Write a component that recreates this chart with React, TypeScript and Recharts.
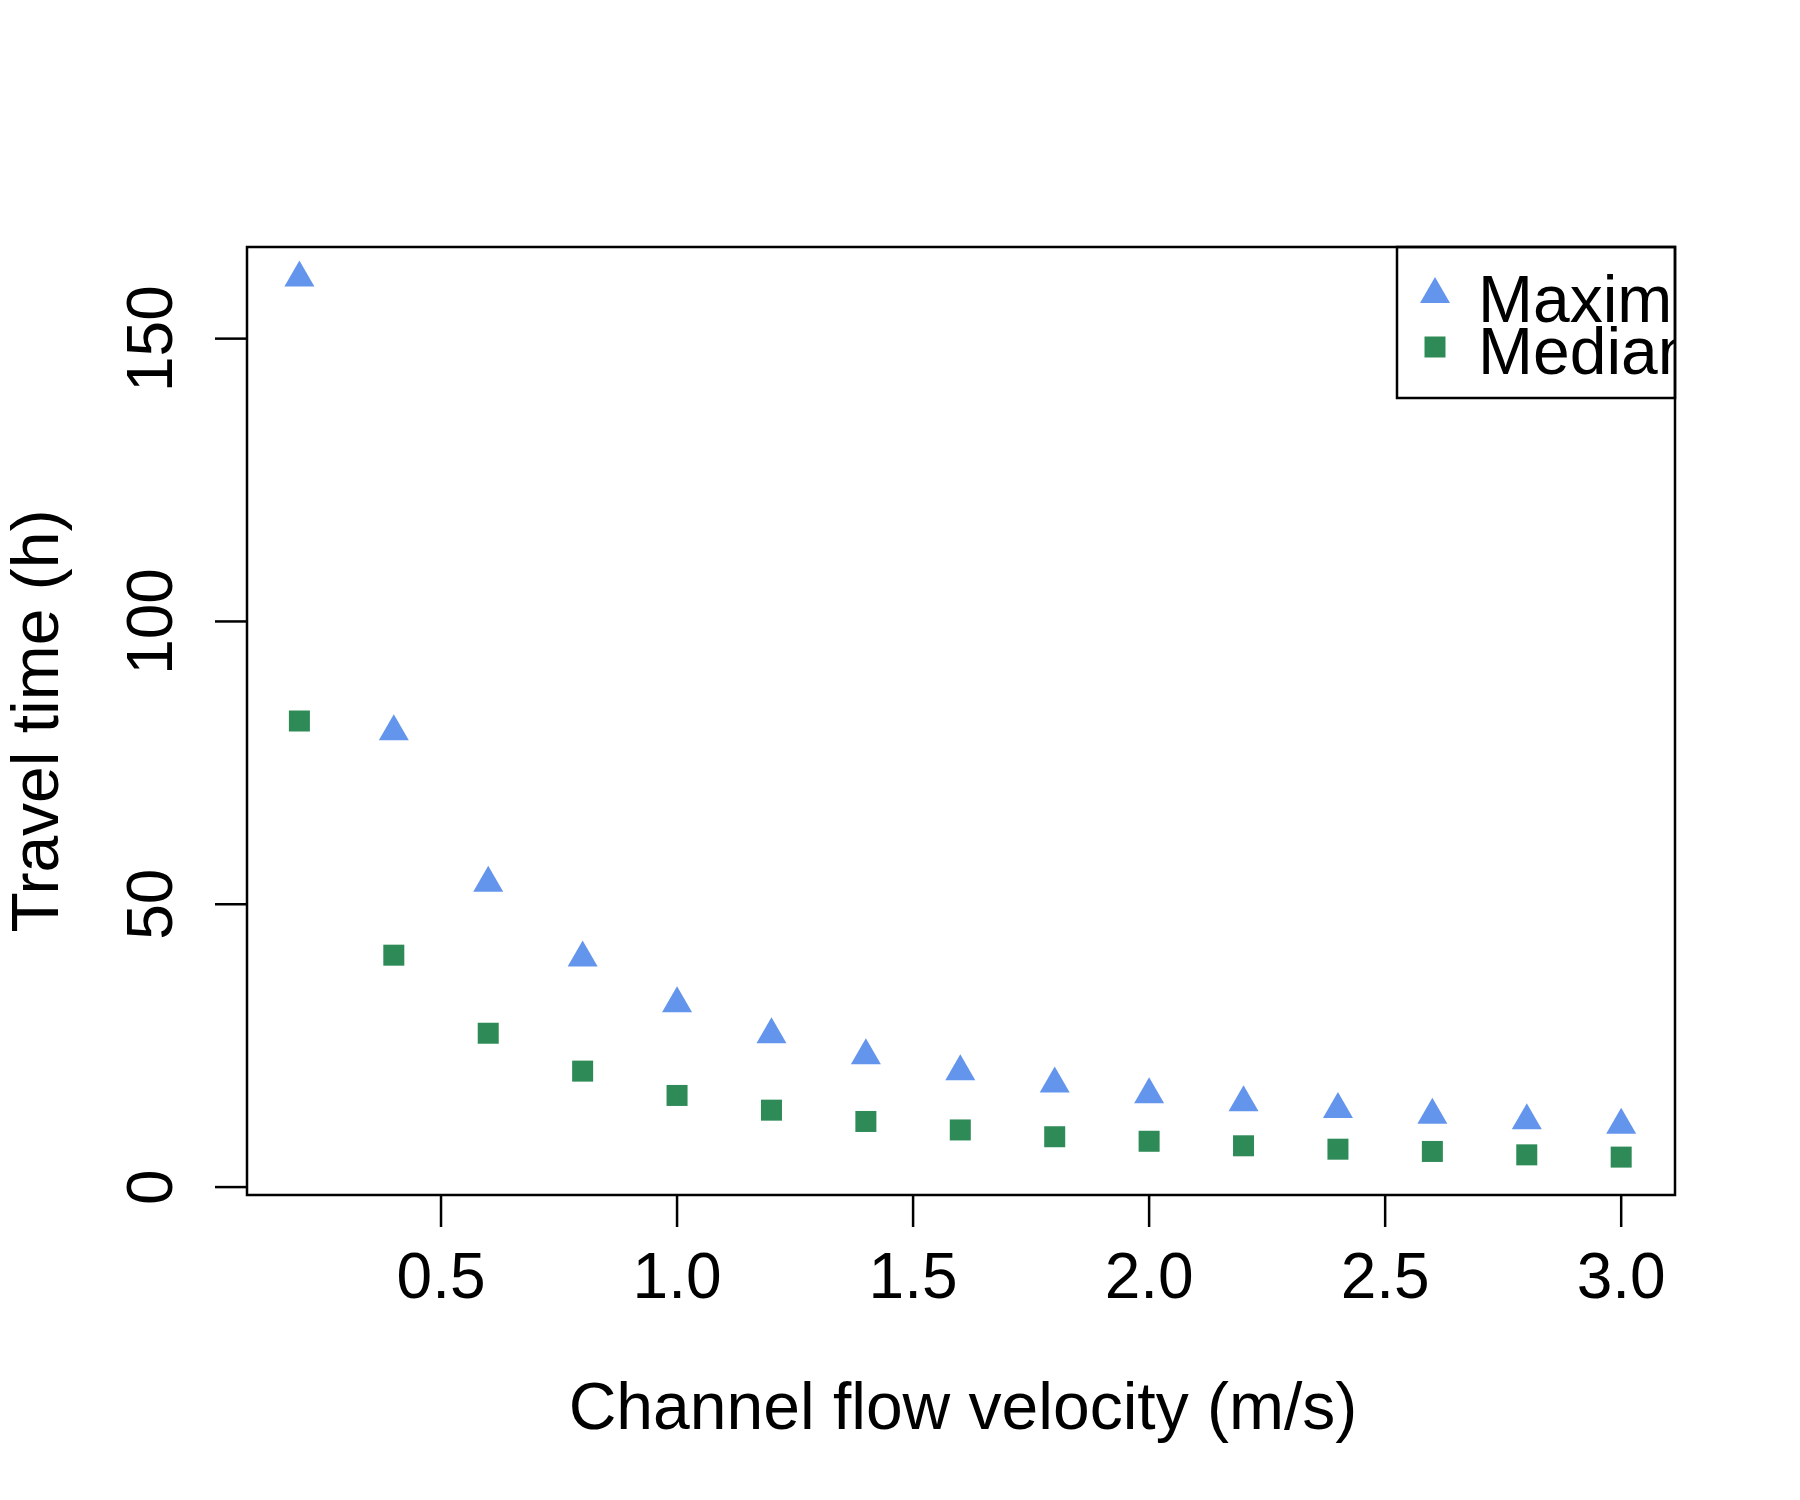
import { ScatterChart, Scatter, XAxis, YAxis, ReferenceArea } from "recharts";

const velocity = [0.2, 0.4, 0.6, 0.8, 1.0, 1.2, 1.4, 1.6, 1.8, 2.0, 2.2, 2.4, 2.6, 2.8, 3.0];
const maximum = [160.8, 80.6, 53.8, 40.6, 32.5, 27.0, 23.3, 20.5, 18.3, 16.4, 15.0, 13.8, 12.8, 11.8, 11.0];
const median = [82.4, 41.0, 27.2, 20.5, 16.2, 13.6, 11.6, 10.1, 8.9, 8.1, 7.3, 6.7, 6.3, 5.7, 5.3];
const xTicks = [0.5, 1.0, 1.5, 2.0, 2.5, 3.0];
const yTicks = [0, 50, 100, 150];

const maxData = velocity.map((v, i) => ({ x: v, y: maximum[i] }));
const medData = velocity.map((v, i) => ({ x: v, y: median[i] }));

const FONT = "'Liberation Sans', Arial, sans-serif";
const X_DOMAIN: [number, number] = [0.089, 3.114];
const Y_DOMAIN: [number, number] = [-1.4, 166.2];
const BOTTOM = 1195;

const Triangle = (p: any) => (
  <polygon
    points={`${p.cx},${p.cy - 17} ${p.cx - 15},${p.cy + 9} ${p.cx + 15},${p.cy + 9}`}
    fill="#6495ED"
  />
);
const Square = (p: any) => (
  <rect x={p.cx - 10.5} y={p.cy - 10.5} width={21} height={21} fill="#2E8B57" />
);

const XTick = (p: any) => (
  <g>
    <line x1={p.x} x2={p.x} y1={BOTTOM} y2={BOTTOM + 32} stroke="#000" strokeWidth={2.5} />
    <text x={p.x} y={1298} textAnchor="middle" fontSize={64} fontFamily={FONT} fill="#000">
      {p.payload.value.toFixed(1)}
    </text>
  </g>
);
const YTick = (p: any) => (
  <g>
    <line x1={215} x2={247} y1={p.y} y2={p.y} stroke="#000" strokeWidth={2.5} />
    <text
      x={172}
      y={p.y}
      textAnchor="middle"
      fontSize={64}
      fontFamily={FONT}
      fill="#000"
      transform={`rotate(-90 172 ${p.y})`}
    >
      {p.payload.value}
    </text>
  </g>
);

export default function App() {
  return (
    <div style={{ position: "absolute", left: 0, top: 0, width: 1800, height: 1500, background: "#fff" }}>
      <ScatterChart width={1800} height={1500} margin={{ top: 247, right: 125, bottom: 205, left: 147 }}>
        <XAxis
          type="number"
          dataKey="x"
          domain={X_DOMAIN}
          ticks={xTicks}
          axisLine={false}
          tickLine={false}
          tick={<XTick />}
          height={100}
          allowDataOverflow
        />
        <YAxis
          type="number"
          dataKey="y"
          domain={Y_DOMAIN}
          ticks={yTicks}
          axisLine={false}
          tickLine={false}
          tick={<YTick />}
          width={100}
          allowDataOverflow
        />
        <ReferenceArea
          x1={X_DOMAIN[0]}
          x2={X_DOMAIN[1]}
          y1={Y_DOMAIN[0]}
          y2={Y_DOMAIN[1]}
          fill="none"
          stroke="#000"
          strokeWidth={2.5}
          fillOpacity={0}
        />
        <Scatter data={maxData} shape={<Triangle />} isAnimationActive={false} />
        <Scatter data={medData} shape={<Square />} isAnimationActive={false} />
      </ScatterChart>
      <svg width={1800} height={1500} style={{ position: "absolute", left: 0, top: 0, pointerEvents: "none" }}>
        <defs>
          <clipPath id="legclip">
            <rect x={1397} y={247} width={278} height={151} />
          </clipPath>
        </defs>
        <g clipPath="url(#legclip)" fontFamily={FONT} fontSize={66} fill="#000">
          <polygon points="1435,277 1420,303 1450,303" fill="#6495ED" />
          <rect x={1424.5} y={336.5} width={21} height={21} fill="#2E8B57" />
          <text x={1478} y={322}>Maximum</text>
          <text x={1478} y={374}>Median</text>
        </g>
        <rect x={1397} y={247} width={278} height={151} fill="none" stroke="#000" strokeWidth={2.5} />
        <text x={963} y={1429} textAnchor="middle" fontSize={66} fontFamily={FONT} fill="#000">
          Channel flow velocity (m/s)
        </text>
        <text
          x={58}
          y={721}
          textAnchor="middle"
          fontSize={66}
          fontFamily={FONT}
          fill="#000"
          transform="rotate(-90 58 721)"
        >
          Travel time (h)
        </text>
      </svg>
    </div>
  );
}
